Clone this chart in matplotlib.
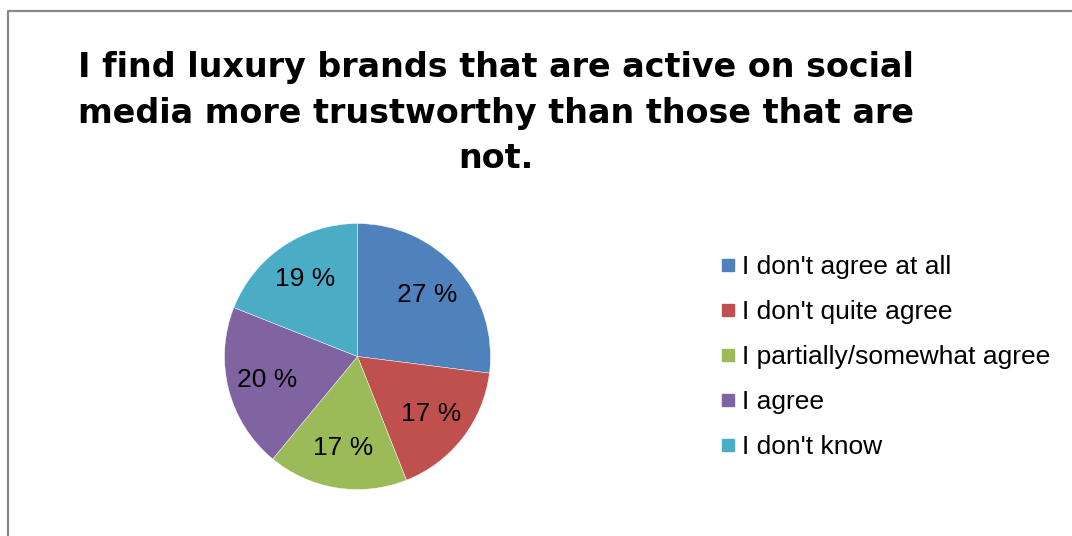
import matplotlib
matplotlib.use("Agg")
import matplotlib.pyplot as plt
from matplotlib.lines import Line2D

# survey answers (share of respondents, %)
answers = ["I don't agree at all", "I don't quite agree", "I partially/somewhat agree",
           "I agree", "I don't know"]
shares = [27, 17, 17, 20, 19]
colors = ["#4F81BD", "#C0504D", "#9BBB59", "#8064A2", "#4BACC6"]

title = "I find luxury brands that are active on social\nmedia more trustworthy than those that are\nnot."

W, H = 1072, 536
fig = plt.figure(figsize=(W / 100, H / 100), dpi=100)

# chart frame (only top/left visible, cropped screenshot)
fig.add_artist(Line2D([8 / W, 8 / W, 1.0], [0.0, 1 - 11 / H, 1 - 11 / H],
                      transform=fig.transFigure, color="#888888", lw=1.6))

fig.text(496 / W, 1 - 113 / H, title, ha="center", va="center", fontsize=24,
         fontweight="bold", family="DejaVu Sans", linespacing=1.5)

# pie, centre (357,356) px, radius 133 px
cx, cy, r = 357.5, 356.5, 133
ax = fig.add_axes([(cx - r) / W, (H - cy - r) / H, 2 * r / W, 2 * r / H])
wedges, _, autotexts = ax.pie(shares, colors=colors, startangle=90, counterclock=False,
                              radius=1, autopct=lambda p: "%d %%" % round(p),
                              pctdistance=0.7,
                              wedgeprops=dict(edgecolor="white", linewidth=0.3),
                              textprops=dict(family="Liberation Sans", fontsize=19))
ax.set_xlim(-1, 1)
ax.set_ylim(-1, 1)
ax.set_aspect("equal")
ax.axis("off")

handles = [Line2D([], [], marker="s", linestyle="none", markersize=9,
                  markerfacecolor=c, markeredgecolor=c) for c in colors]
fig.legend(handles, answers, loc="center left", bbox_to_anchor=(707 / W, 1 - 357 / H),
           frameon=False, prop=dict(family="Liberation Sans", size=19),
           handlelength=0.6, handletextpad=0.22, labelspacing=0.8, borderpad=0)

plt.savefig("out.png", dpi=100)
